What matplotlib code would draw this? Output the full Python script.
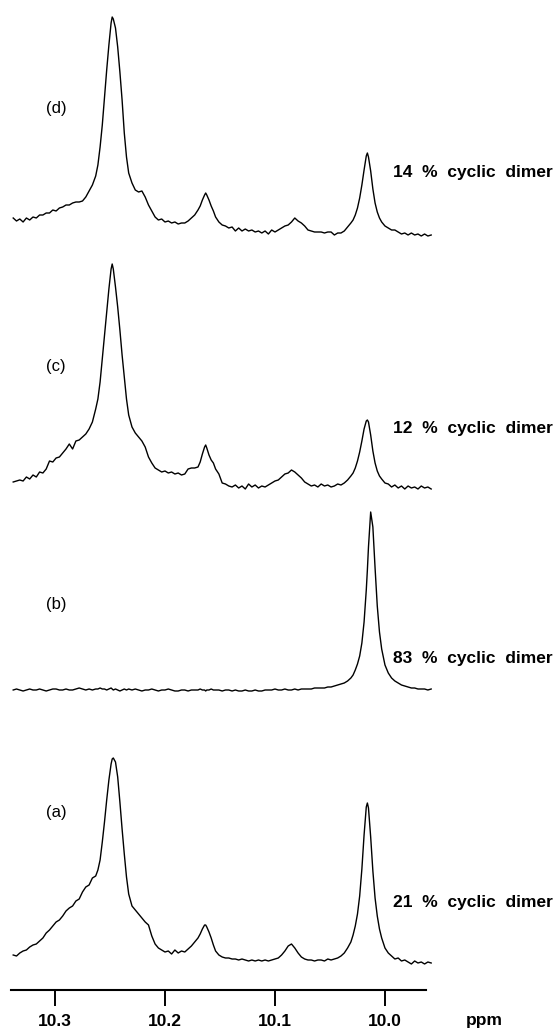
"""Stacked 1H NMR spectra (aldehyde region) with percentage of cyclic dimer."""

import matplotlib

matplotlib.use("Agg")
import matplotlib.pyplot as plt

plt.rcParams["font.family"] = ["Liberation Sans", "DejaVu Sans"]

# === DATA ===

# chemical shift sampling points shared by all four traces (ppm)
ppm = [
    10.338, 10.335, 10.332, 10.329, 10.326, 10.323, 10.320, 10.317, 10.314, 10.311,
    10.308, 10.305, 10.302, 10.299, 10.296, 10.293, 10.290, 10.287, 10.284, 10.281,
    10.278, 10.275, 10.272, 10.269, 10.266, 10.263,
    10.261, 10.259, 10.257, 10.255, 10.253, 10.251, 10.249, 10.248, 10.247, 10.245,
    10.243, 10.241, 10.239, 10.237, 10.235, 10.233,
    10.230, 10.227, 10.224, 10.221, 10.218, 10.215, 10.212, 10.209, 10.206, 10.203,
    10.200, 10.197, 10.194, 10.191, 10.188, 10.185, 10.182, 10.179, 10.176, 10.173,
    10.170, 10.168, 10.166, 10.164, 10.163, 10.162, 10.160, 10.158, 10.156, 10.154,
    10.151, 10.148, 10.145, 10.142, 10.139, 10.136, 10.133, 10.130, 10.127, 10.124,
    10.121, 10.118, 10.115, 10.112, 10.109, 10.106, 10.103, 10.100, 10.097, 10.094,
    10.091, 10.088, 10.085, 10.082, 10.079, 10.076, 10.073, 10.070, 10.067, 10.064,
    10.061, 10.058, 10.055, 10.052, 10.049, 10.046, 10.043, 10.040, 10.037, 10.034,
    10.031,
    10.029, 10.027, 10.025, 10.023, 10.021, 10.019, 10.017, 10.016, 10.015, 10.013,
    10.011, 10.009, 10.007, 10.005, 10.003,
    10.000, 9.997, 9.994, 9.991, 9.988, 9.985, 9.982, 9.979, 9.976, 9.973,
    9.970, 9.967, 9.964, 9.961, 9.958,
]

# intensities (arbitrary units) for each spectrum
spec_a = [
    7, 6, 9, 11, 12, 15, 17, 18, 21, 24, 29, 32, 36, 40, 42, 46, 51, 54, 56, 61,
    63, 70, 75, 77, 84, 86,
    92, 102, 120, 140, 162, 182, 198, 203, 204, 200, 185, 160, 133, 108, 85, 68,
    56, 52, 48, 44, 40, 37, 26, 18, 14, 12, 10, 11, 8, 12, 9, 11, 10, 13, 16, 20,
    24, 28, 33, 37, 37, 35, 30, 24, 17, 11,
    7, 5, 4, 4, 3, 3, 2, 3, 2, 1, 2, 1, 2, 1, 2, 1, 2, 3, 4, 7,
    11, 16, 18, 14, 9, 5, 3, 2, 2, 1, 2, 2, 1, 3, 2, 3, 4, 6, 9, 14, 20,
    27, 36, 48, 66, 93, 127, 155, 159, 154, 125, 91, 64, 46, 33, 24,
    14, 9, 6, 3, 4, 1, 2, 0, -2, 1, -1, 0, -2, 0, -1,
]
spec_b = [
    0, 1, 0, -1, 0, 1, 0, 0, 1, 0, -1, 0, 1, 1, 0, 0, 1, 0, 0, 1,
    2, 1, 0, 1, 0, 1,
    1, 2, 1, 1, 0, 1, 2, 1, 0, 1, 0, -1, 0, 1, 0, 1,
    0, 1, 0, -1, 0, 0, 1, 0, -1, 0, 0, 1, 0, -1, -1, 0, 0, -1, 0, 0,
    0, 1, 0, 0, -1, 0, 0, 1, 0, 0,
    0, -1, 0, 0, -1, 0, -1, -1, 0, -1, -1, 0, -1, -1, 0, 0, 0, 1, 0, 0,
    1, 0, 0, 1, 0, 1, 1, 1, 1, 2, 2, 2, 2, 3, 3, 4, 5, 6, 7, 9, 12,
    15, 20, 26, 34, 47, 68, 100, 120, 143, 178, 163, 122, 84, 58, 41,
    25, 17, 12, 9, 7, 5, 4, 3, 2, 2, 1, 1, 1, 0, 1,
]
spec_c = [
    5, 6, 7, 6, 10, 8, 12, 10, 15, 14, 18, 26, 25, 29, 30, 34, 38, 43, 38, 46,
    47, 50, 53, 58, 65, 78,
    88, 105, 128, 150, 175, 198, 218, 223, 218, 200, 180, 157, 132, 110, 88, 72,
    60, 54, 50, 46, 40, 30, 24, 19, 17, 15, 16, 14, 15, 13, 14, 12, 13, 18, 19, 19,
    20, 25, 33, 40, 42, 39, 32, 27, 24, 18,
    13, 4, 3, 1, 0, 2, -1, 1, -2, 3, 0, 2, -1, 1, 0, 2, 4, 6, 7, 10,
    13, 14, 17, 15, 12, 9, 5, 3, 1, 2, 0, 3, 1, 2, 0, 1, 3, 2, 4, 7, 11,
    14, 19, 26, 35, 46, 58, 66, 67, 65, 52, 36, 24, 16, 11, 8,
    4, 3, 0, 2, -1, 1, -2, 1, -1, 0, -2, 1, -1, 0, -2,
]
spec_d = [
    17, 14, 16, 13, 17, 15, 18, 17, 20, 20, 22, 22, 25, 24, 27, 28, 30, 30, 32, 33,
    33, 34, 38, 44, 50, 59,
    70, 88, 110, 138, 165, 190, 212, 218, 216, 207, 188, 163, 135, 102, 78, 62,
    52, 45, 43, 44, 38, 30, 24, 18, 15, 16, 13, 14, 12, 13, 11, 12, 12, 14, 17, 20,
    25, 29, 35, 40, 42, 40, 35, 29, 24, 18,
    13, 10, 9, 7, 8, 4, 7, 4, 6, 4, 5, 3, 4, 2, 4, 1, 5, 3, 5, 7,
    9, 10, 13, 17, 14, 12, 9, 5, 4, 3, 3, 3, 2, 3, 3, 0, 2, 2, 4, 8, 12,
    15, 20, 27, 37, 50, 65, 79, 82, 78, 64, 46, 32, 23, 17, 13,
    9, 7, 5, 5, 3, 1, 2, 0, 2, 0, 1, -1, 1, -1, 0,
]

panel_labels = ["(a)", "(b)", "(c)", "(d)"]
dimer_labels = ["21 % cyclic dimer", "83 % cyclic dimer",
                "12 % cyclic dimer", "14 % cyclic dimer"]
tick_ppm = [10.3, 10.2, 10.1, 10.0]

# === LAYOUT ===

spectra = [spec_a, spec_b, spec_c, spec_d]
offsets = [28, 300, 503, 755]          # baseline of each trace
panel_y = [178, 386, 623, 882]         # height of "(a)".."(d)"
dimer_y = [87, 332, 562, 818]          # height of the percentage labels

fig = plt.figure(figsize=(5.59, 10.29), dpi=100)
ax = fig.add_axes([11 / 559, 39 / 1029, 415 / 559, 990 / 1029])
ax.set_xlim(10.34, 9.9627)
ax.set_ylim(0, 990)

for values, base in zip(spectra, offsets):
    ax.plot(ppm, [v + base for v in values], color="black", lw=1.0,
            clip_on=False)

for label, y in zip(panel_labels, panel_y):
    ax.text(10.299, y, label, fontsize=12, ha="center", va="center")

for label, y in zip(dimer_labels, dimer_y):
    ax.text(9.9927, y, label.replace(" ", "  "), fontsize=12.5,
            fontweight="bold", ha="left", va="center", clip_on=False)

# ppm scale at the bottom
for side in ["left", "right", "top"]:
    ax.spines[side].set_visible(False)
ax.spines["bottom"].set_linewidth(1.5)
ax.set_yticks([])
ax.set_xticks(tick_ppm)
ax.set_xticklabels([f"{t:.1f}" for t in tick_ppm], fontsize=12.5,
                   fontweight="bold")
ax.tick_params(axis="x", direction="out", length=11.5, width=1.4, pad=6)
ax.text(9.91, -31, "ppm", fontsize=12.5, fontweight="bold", ha="center",
        va="center", clip_on=False)

fig.savefig("out.png", dpi=100)
